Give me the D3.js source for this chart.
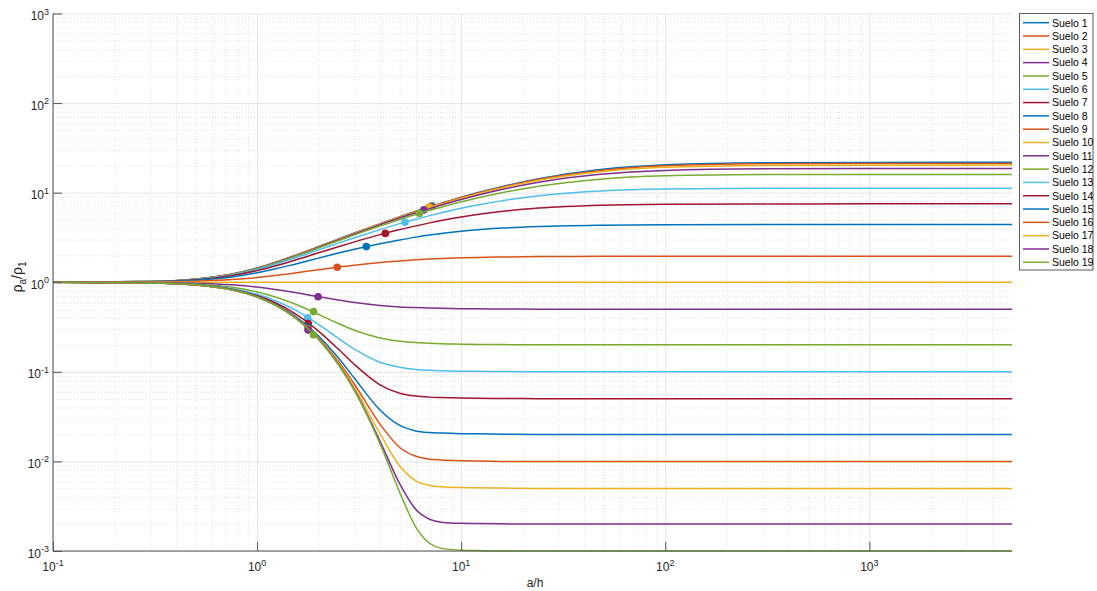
<!DOCTYPE html>
<html><head><meta charset="utf-8">
<script src="https://cdn.jsdelivr.net/npm/d3@7"></script>
<style>
body{margin:0;background:#fff;}
svg{display:block;font-family:"Liberation Sans",Arial,Helvetica,sans-serif;}
</style></head><body>
<svg id="chart" width="1097" height="591"></svg>
<script>
// ---- data ----
const aOverH = [0.1, 0.3, 0.5, 0.75, 1, 1.25, 1.5, 2, 2.5, 3, 4, 5, 6, 7, 8, 10, 12, 16, 24, 48, 100, 300, 1000, 5000];

const suelo1  = [1.001,1.020,1.083,1.231,1.440,1.687,1.952,2.496,3.030,3.543,4.503,5.38,6.19,6.94,7.63,8.91,9.98,11.76,14.30,18.09,20.45,21.61,21.78,21.80];
const suelo2  = [1.001,1.020,1.083,1.230,1.438,1.684,1.948,2.489,3.020,3.530,4.48,5.36,6.17,6.92,7.58,8.82,9.87,11.61,14.08,17.72,19.95,21.02,21.18,21.20];
const suelo3  = [1.001,1.020,1.082,1.229,1.436,1.680,1.942,2.479,3.005,3.508,4.46,5.31,6.09,6.83,7.48,8.67,9.69,11.37,13.74,17.14,19.19,20.14,20.29,20.30];
const suelo4  = [1.001,1.019,1.081,1.226,1.430,1.671,1.930,2.457,2.972,3.463,4.40,5.21,5.97,6.64,7.29,8.40,9.35,10.90,13.04,16.01,17.72,18.48,18.59,18.60];
const suelo5  = [1.001,1.019,1.079,1.221,1.420,1.654,1.905,2.414,2.908,3.376,4.237,5.02,5.71,6.35,6.89,7.90,8.74,10.05,11.82,14.16,15.41,15.92,15.99,16.00];
const suelo6  = [1.001,1.018,1.074,1.206,1.391,1.607,1.836,2.296,2.734,3.141,3.870,4.51,5.06,5.54,5.97,6.70,7.28,8.15,9.23,10.44,10.98,11.17,11.20,11.20];
const suelo7  = [1.001,1.016,1.067,1.185,1.348,1.538,1.737,2.130,2.495,2.825,3.40,3.87,4.26,4.60,4.88,5.34,5.69,6.19,6.73,7.24,7.43,7.49,7.50,7.50];
const suelo8  = [1.000,1.013,1.053,1.146,1.275,1.421,1.572,1.860,2.117,2.338,2.697,2.97,3.19,3.36,3.50,3.71,3.85,4.03,4.20,4.34,4.39,4.40,4.40,4.40];
const suelo9  = [1.000,1.006,1.026,1.070,1.129,1.195,1.261,1.380,1.476,1.552,1.661,1.731,1.781,1.815,1.839,1.873,1.893,1.916,1.934,1.946,1.949,1.950,1.950,1.950];
const suelo10 = [1,1,1,1,1,1,1,1,1,1,1,1,1,1,1,1,1,1,1,1,1,1,1,1];
const suelo11 = [0.9998,0.994,0.976,0.935,0.883,0.827,0.775,0.690,0.632,0.593,0.551,0.531,0.521,0.515,0.511,0.507,0.505,0.503,0.501,0.500,0.500,0.500,0.500,0.500];
const suelo12 = [0.9995,0.9885,0.954,0.877,0.778,0.676,0.583,0.438,0.346,0.291,0.239,0.220,0.212,0.208,0.2056,0.2036,0.2023,0.2013,0.2006,0.2001,0.200,0.200,0.200,0.200];
const suelo13 = [0.9994,0.986,0.944,0.852,0.733,0.614,0.504,0.339,0.237,0.179,0.128,0.1126,0.1065,0.1042,0.1030,0.1018,0.1012,0.1007,0.1003,0.1001,0.100,0.100,0.100,0.100];
const suelo14 = [0.9993,0.9847,0.939,0.838,0.710,0.579,0.462,0.285,0.1795,0.1206,0.0717,0.0577,0.0536,0.0522,0.0516,0.0509,0.0506,0.0503,0.0502,0.0500,0.050,0.050,0.050,0.050];
const suelo15 = [0.9993,0.9838,0.9355,0.8285,0.6942,0.5572,0.4343,0.2517,0.1438,0.0846,0.0375,0.0252,0.0219,0.0210,0.0207,0.0204,0.0203,0.0201,0.0200,0.0200,0.020,0.020,0.020,0.020];
const suelo16 = [0.9993,0.9832,0.9343,0.8253,0.6889,0.5497,0.4248,0.2405,0.1316,0.0726,0.0261,0.0143,0.0114,0.0106,0.0104,0.0102,0.0101,0.0100,0.0100,0.0100,0.010,0.010,0.010,0.010];
const suelo17 = [0.9993,0.9831,0.9337,0.8236,0.6862,0.5460,0.4201,0.2350,0.1255,0.0665,0.0204,0.00887,0.00608,0.00539,0.00520,0.00510,0.00507,0.00504,0.00500,0.00500,0.005,0.005,0.005,0.005];
const suelo18 = [0.9993,0.9830,0.9332,0.8227,0.6845,0.5437,0.4173,0.2315,0.1219,0.0629,0.0169,0.0056,0.0029,0.00226,0.00210,0.00204,0.00203,0.00201,0.00200,0.00200,0.002,0.002,0.002,0.002];
const suelo19 = [0.9993,0.9830,0.9332,0.8224,0.6839,0.5430,0.4164,0.2305,0.1206,0.0616,0.0158,0.00451,0.00184,0.00122,0.00107,0.00102,0.00101,0.00100,0.00100,0.00100,0.001,0.001,0.001,0.001];

const seriesNames = ["Suelo 1","Suelo 2","Suelo 3","Suelo 4","Suelo 5","Suelo 6","Suelo 7","Suelo 8","Suelo 9","Suelo 10",
                     "Suelo 11","Suelo 12","Suelo 13","Suelo 14","Suelo 15","Suelo 16","Suelo 17","Suelo 18","Suelo 19"];
const seriesValues = [suelo1,suelo2,suelo3,suelo4,suelo5,suelo6,suelo7,suelo8,suelo9,suelo10,
                      suelo11,suelo12,suelo13,suelo14,suelo15,suelo16,suelo17,suelo18,suelo19];

// marker points (one per curve; Suelo 10 has none)
const markerX = [7.2, 7.05, 6.93, 6.56, 6.24, 5.30, 4.25, 3.43, 2.47, null, 1.99, 1.89, 1.77, 1.78, 1.78, 1.78, 1.78, 1.78, 1.89];
const markerY = [7.08, 6.95, 6.85, 6.42, 5.87, 4.66, 3.51, 2.50, 1.47, null, 0.688, 0.470, 0.400, 0.347, 0.314, 0.303, 0.297, 0.294, 0.259];

const xMajorTicks = [0.1, 1, 10, 100, 1000];
const xTickExponents = ["-1","0","1","2","3"];
const yMajorTicks = [0.001, 0.01, 0.1, 1, 10, 100, 1000];
const yTickExponents = ["-3","-2","-1","0","1","2","3"];

const palette = ["#0072BD","#D95319","#EDB120","#7E2F8E","#77AC30","#4DBEEE","#A2142F"];

// ---- layout ----
const L = 53, R = 1012, T = 13.5, B = 551;
const svg = d3.select("#chart");
const x = d3.scaleLog().domain([0.1, 5000]).range([L, R]);
const y = d3.scaleLog().domain([1e-3, 1e3]).range([B, T]);

function minorOf(domainMin, domainMax){
  const out = [];
  for (let e = -4; e <= 4; e++){
    for (let m = 2; m <= 9; m++){
      const v = m * Math.pow(10, e);
      if (v > domainMin*1.0001 && v < domainMax*0.9999) out.push(v);
    }
  }
  return out;
}
const xMinor = minorOf(0.1, 5000);
const yMinor = minorOf(0.001, 1000);

// ---- grid ----
const grid = svg.append("g");
grid.append("g").attr("transform",`translate(0,${B})`)
  .call(d3.axisBottom(x).tickValues(xMinor).tickSize(-(B-T)).tickFormat(""))
  .call(g=>g.select(".domain").remove())
  .selectAll("line").attr("stroke","#d6d6d6").attr("stroke-width",0.8).attr("stroke-dasharray","1,2");
grid.append("g").attr("transform",`translate(${L},0)`)
  .call(d3.axisLeft(y).tickValues(yMinor).tickSize(-(R-L)).tickFormat(""))
  .call(g=>g.select(".domain").remove())
  .selectAll("line").attr("stroke","#d6d6d6").attr("stroke-width",0.8).attr("stroke-dasharray","1,2");
grid.append("g").attr("transform",`translate(0,${B})`)
  .call(d3.axisBottom(x).tickValues(xMajorTicks).tickSize(-(B-T)).tickFormat(""))
  .call(g=>g.select(".domain").remove())
  .selectAll("line").attr("stroke","#e3e3e3").attr("stroke-width",1);
grid.append("g").attr("transform",`translate(${L},0)`)
  .call(d3.axisLeft(y).tickValues(yMajorTicks).tickSize(-(R-L)).tickFormat(""))
  .call(g=>g.select(".domain").remove())
  .selectAll("line").attr("stroke","#e3e3e3").attr("stroke-width",1);

// ---- curves and markers ----
const line = d3.line()
  .x((d,i)=>x(aOverH[i]))
  .y(d=>y(d))
  .curve(d3.curveMonotoneX);

const plot = svg.append("g");
seriesValues.forEach((vals, i) => {
  const c = palette[i % palette.length];
  plot.append("path").datum(vals)
    .attr("d", line).attr("fill","none").attr("stroke", c).attr("stroke-width",1.5);
  if (markerX[i] !== null){
    plot.append("circle")
      .attr("cx", x(markerX[i])).attr("cy", y(markerY[i]))
      .attr("r", 3.8).attr("fill", c);
  }
});

// ---- axes ----
const axCol = "#555555";
const gx = svg.append("g").attr("transform",`translate(0,${B})`);
gx.call(d3.axisBottom(x).tickValues(xMinor).tickSize(-4.5).tickSizeOuter(0).tickFormat(""));
gx.call(d3.axisBottom(x).tickValues(xMajorTicks).tickSize(-9).tickSizeOuter(0).tickFormat(""));
gx.selectAll("line").attr("stroke",axCol);
gx.selectAll(".domain").attr("stroke",axCol).attr("d",`M${L},0H${R}`);

const gy = svg.append("g").attr("transform",`translate(${L},0)`);
gy.call(d3.axisLeft(y).tickValues(yMinor).tickSize(-4.5).tickSizeOuter(0).tickFormat(""));
gy.call(d3.axisLeft(y).tickValues(yMajorTicks).tickSize(-9).tickSizeOuter(0).tickFormat(""));
gy.selectAll("line").attr("stroke",axCol);
gy.selectAll(".domain").attr("stroke",axCol).attr("d",`M0,${B}V${T}`);

const txtCol = "#262626";
// x tick labels
xMajorTicks.forEach((v,i)=>{
  const t = svg.append("text").attr("x", x(v)).attr("y", B+20)
    .attr("text-anchor","middle").attr("fill",txtCol).attr("font-size",12);
  t.append("tspan").text("10");
  t.append("tspan").attr("dy",-5.5).attr("font-size",9).text(xTickExponents[i]);
});
// y tick labels
yMajorTicks.forEach((v,i)=>{
  const t = svg.append("text").attr("x", L-4).attr("y", y(v)+6.5)
    .attr("text-anchor","end").attr("fill",txtCol).attr("font-size",12);
  t.append("tspan").text("10");
  t.append("tspan").attr("dy",-5.5).attr("font-size",9).text(yTickExponents[i]);
});

// axis titles
svg.append("text").attr("x", 535).attr("y", 587).attr("text-anchor","middle")
  .attr("fill",txtCol).attr("font-size",12).text("a/h");
const yl = svg.append("text").attr("transform","translate(22,277) rotate(-90)")
  .attr("text-anchor","middle").attr("fill",txtCol).attr("font-size",14);
yl.append("tspan").text("ρ");
yl.append("tspan").attr("dy",3.5).attr("font-size",10).text("a");
yl.append("tspan").attr("dy",-3.5).text("/ρ");
yl.append("tspan").attr("dy",3.5).attr("font-size",10).text("1");

// ---- legend ----
const lg = svg.append("g");
lg.append("rect").attr("x",1019.5).attr("y",13.5).attr("width",73.5).attr("height",256.5)
  .attr("fill","#fff").attr("stroke","#5a5a5a").attr("stroke-width",1);
seriesNames.forEach((n,i)=>{
  const yy = 22.7 + i*13.31;
  lg.append("line").attr("x1",1023).attr("x2",1049).attr("y1",yy).attr("y2",yy)
    .attr("stroke",palette[i % palette.length]).attr("stroke-width",1.5);
  lg.append("text").attr("x",1052).attr("y",yy+3.8).attr("font-size",10.5)
    .attr("fill","#000").text(n);
});
</script>
</body></html>
